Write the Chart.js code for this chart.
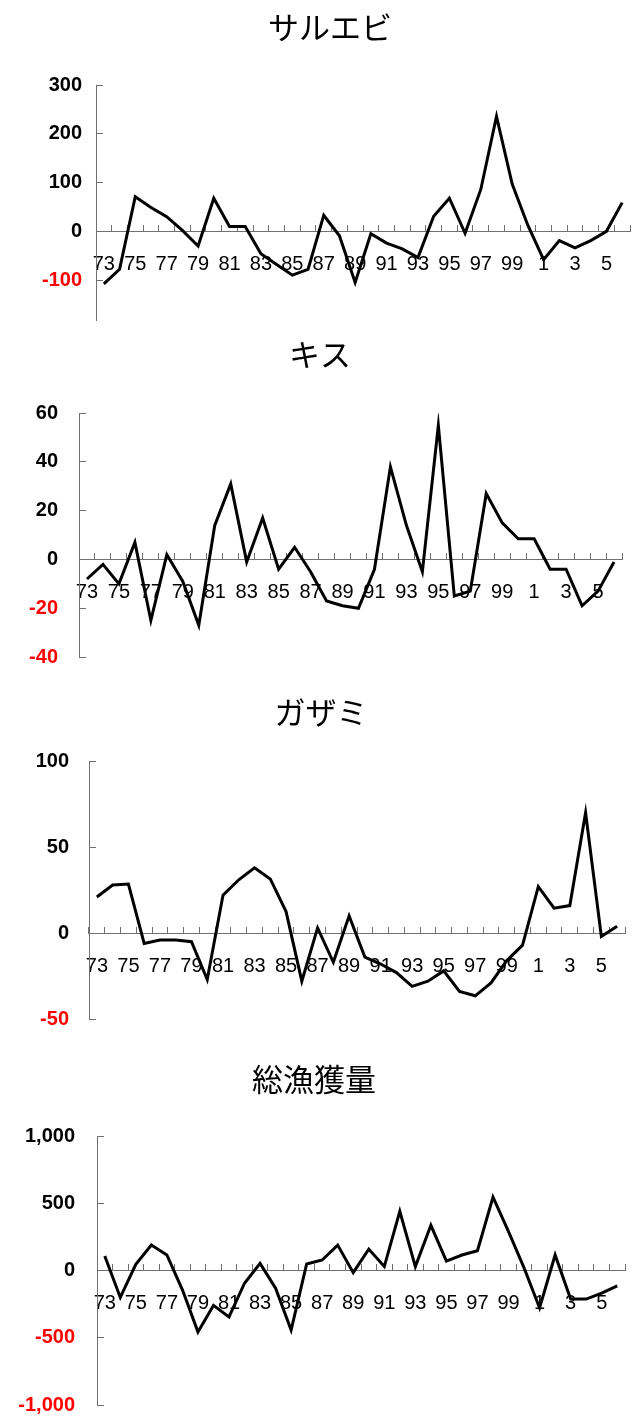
<!DOCTYPE html>
<html>
<head>
<meta charset="utf-8">
<script src="https://cdn.jsdelivr.net/npm/chart.js@4"></script>
<style>
  html, body { margin: 0; padding: 0; background: #fff; }
  body { position: relative; width: 637px; height: 1421px; overflow: hidden; }
  .box { position: absolute; left: 0; width: 637px; }
</style>
</head>
<body>
<div class="box" style="top:0px;height:328px"><canvas id="c1"></canvas></div>
<div class="box" style="top:327px;height:338px"><canvas id="c2"></canvas></div>
<div class="box" style="top:685px;height:342px"><canvas id="c3"></canvas></div>
<div class="box" style="top:1052px;height:365px"><canvas id="c4"></canvas></div>
<script>
// 年（1973〜2006）
const years = ['73','74','75','76','77','78','79','80','81','82','83','84','85','86','87','88','89',
               '90','91','92','93','94','95','96','97','98','99','0','1','2','3','4','5','6'];

// 前年差（読み取り値）
const saruebi = [-108, -78, 71, 49, 30, 2, -30, 68, 10, 10, -46, -68, -90, -78, 33, -9, -105,
                 -5, -24, -36, -54, 31, 68, -4, 86, 236, 97, 12, -58, -19, -34, -19, 0, 59];
const kisu = [-8, -2, -10, 7, -25, 2, -9, -27, 14, 31, -1, 17, -4, 5, -5, -17, -19,
              -20, -4, 38, 14, -5, 55, -15, -13, 27, 15, 8.5, 8.5, -4, -4, -19, -13, -1];
const gazami = [21, 28, 28.5, -6, -4, -4, -5, -27, 22, 31, 38, 31.5, 12.5, -28, 3, -17, 10,
                -14, -18, -23, -31, -28, -22, -34, -36.5, -29, -16, -7, 27, 14.5, 16, 70, -2, 4];
const total = [108, -200, 47, 190, 116, -143, -456, -259, -345, -94, 54, -131, -443, 49, 79, 190, -15,
               160, 30, 441, 30, 337, 71, 116, 148, 547, 290, 20, -278, 116, -212, -212, -167, -113];

const titles = ['サルエビ', 'キス', 'ガザミ', '総漁獲量'];

const axisGray = '#707070';

function makeChart(id, title, values, y, lay) {
    const ctx = document.getElementById(id).getContext('2d');
    return new Chart(ctx, {
        type: 'line',
        data: {
            labels: years,
            datasets: [{
                data: values,
                borderColor: '#000',
                borderWidth: 3,
                pointRadius: 0,
                tension: 0,
                fill: false
            }]
        },
        options: {
            responsive: true,
            maintainAspectRatio: false,
            animation: false,
            locale: 'en-US',
            layout: { padding: { left: lay.left, right: lay.right, top: 0, bottom: lay.bottom } },
            plugins: {
                legend: { display: false },
                tooltip: { enabled: false },
                title: {
                    display: true,
                    text: title,
                    color: '#000',
                    font: { family: "'Noto Sans CJK JP', 'Noto Sans'", size: 31, weight: 'normal', lineHeight: 1.2 },
                    padding: { top: 9, bottom: lay.titleGap }
                }
            },
            scales: {
                x: {
                    type: 'category',
                    position: { y: 0 },
                    offset: true,
                    // ラベル用の余白で描画領域が縮まないように
                    afterFit: s => { s.paddingLeft = 0; s.paddingRight = 0; },
                    grid: { offset: true, drawOnChartArea: false, tickLength: -7, color: axisGray },
                    border: { color: axisGray, width: 1 },
                    ticks: {
                        autoSkip: false,
                        maxRotation: 0,
                        padding: 28,
                        color: '#000',
                        font: { family: "'Liberation Sans Narrow', 'Liberation Sans', Arial", size: 20 },
                        callback: (v, i) => (i % 2 === 0 ? years[i] : '')
                    }
                },
                y: {
                    min: y.min,
                    max: y.max,
                    afterFit: s => {
                        s.width = lay.axisX - lay.left;
                        s.paddingTop = 0;
                        s.paddingBottom = 0;
                    },
                    grid: { drawOnChartArea: false, tickLength: -7, color: axisGray },
                    border: { color: axisGray, width: 1 },
                    ticks: {
                        stepSize: y.step,
                        includeBounds: false,
                        padding: lay.labelPad,
                        color: c => (c.tick.value < 0 ? '#ff0000' : '#000'),
                        font: { family: "'Liberation Sans', Arial", size: 20, weight: 'bold' }
                    }
                }
            }
        }
    });
}

makeChart('c1', titles[0], saruebi, { min: -182, max: 300, step: 100 },
    { left: 30, right: 7, bottom: 8, axisX: 96, labelPad: 21, titleGap: 39 });
makeChart('c2', titles[1], kisu, { min: -40, max: 60, step: 20 },
    { left: 18, right: 15, bottom: 8, axisX: 79, labelPad: 28, titleGap: 40 });
makeChart('c3', titles[2], gazami, { min: -50, max: 100, step: 50 },
    { left: 17, right: 12, bottom: 8, axisX: 89, labelPad: 27, titleGap: 30 });
makeChart('c4', titles[3], total, { min: -1000, max: 1000, step: 500 },
    { left: 3, right: 12, bottom: 12, axisX: 97, labelPad: 29, titleGap: 38 });
</script>
</body>
</html>
